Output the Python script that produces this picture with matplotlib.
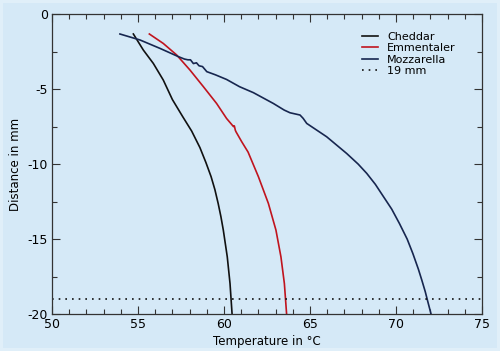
import matplotlib.pyplot as plt
from matplotlib.ticker import MultipleLocator

plt.rcParams['axes.unicode_minus'] = False

# Data
cheddar_t = [54.73, 55.31, 55.89, 56.47, 57.0, 57.6, 58.12, 58.6, 58.95, 59.25, 59.47, 59.66, 59.82, 59.96, 60.19, 60.35, 60.47]
cheddar_d = [-1.33, -2.4, -3.29, -4.4, -5.7, -6.84, -7.8, -8.9, -9.9, -10.84, -11.7, -12.62, -13.5, -14.4, -16.18, -17.96, -20.0]

emment_t = [55.66, 56.47, 57.25, 58.02, 58.8, 59.57, 60.15, 60.55, 60.6, 60.66, 60.7, 61.03, 61.4, 62.0, 62.58, 63.02, 63.31, 63.51, 63.64]
emment_d = [-1.33, -1.96, -2.73, -3.73, -4.84, -5.96, -6.96, -7.5, -7.45, -7.75, -7.85, -8.51, -9.2, -10.84, -12.62, -14.4, -16.18, -17.96, -20.0]

mozz_t = [53.95, 55.12, 56.28, 57.35, 57.7, 57.9, 58.05, 58.22, 58.4, 58.55, 58.75, 59.0, 59.5, 60.15, 60.9, 61.71, 62.87, 63.5, 63.84,
          64.42, 64.6, 64.81, 65.97, 67.13, 67.8, 68.3, 68.8, 69.26, 69.75, 70.2, 70.65, 70.98, 71.3, 71.5, 71.7, 71.88, 72.04]
mozz_d = [-1.33, -1.73, -2.29, -2.84, -3.0, -3.05, -3.05, -3.3, -3.25, -3.45, -3.5, -3.84, -4.05, -4.36, -4.84, -5.24, -5.96, -6.4, -6.58,
          -6.73, -6.95, -7.29, -8.18, -9.29, -10.0, -10.62, -11.35, -12.15, -13.0, -13.96, -15.0, -15.96, -17.0, -17.73, -18.5, -19.3, -20.0]

limit_depth = -19

bg = '#d5e9f7'
fig = plt.figure(figsize=(5.0, 3.51), dpi=100, facecolor=bg)
ax = fig.add_axes([0.104, 0.105, 0.860, 0.855])
ax.set_facecolor(bg)

ax.plot(cheddar_t, cheddar_d, color='#111111', lw=1.2, label='Cheddar')
ax.plot(emment_t, emment_d, color='#c0141e', lw=1.2, label='Emmentaler')
ax.plot(mozz_t, mozz_d, color='#17264f', lw=1.2, label='Mozzarella')
ax.axhline(limit_depth, color='#111111', lw=1.2, ls=(0, (1, 3)), label='19 mm')

ax.set_xlim(50, 75)
ax.set_ylim(-20, 0)
ax.xaxis.set_major_locator(MultipleLocator(5))
ax.xaxis.set_minor_locator(MultipleLocator(1))
ax.yaxis.set_major_locator(MultipleLocator(5))
ax.yaxis.set_minor_locator(MultipleLocator(2.5))
ax.tick_params(which='both', direction='in', top=True, right=True, color='#333333', labelsize=9, pad=3)
ax.tick_params(which='major', length=6, width=0.8)
ax.tick_params(which='minor', length=3.5, width=0.8)
for s in ax.spines.values():
    s.set_color('#333333')
    s.set_linewidth(0.9)

ax.set_xlabel('Temperature in °C', fontsize=8.5, labelpad=2)
ax.xaxis.set_label_coords(0.5, -0.07)
ax.set_ylabel('Distance in mm', fontsize=8.5, labelpad=4)

ax.legend(loc='upper left', bbox_to_anchor=(0.71, 0.955), frameon=False, fontsize=8,
          handlelength=1.5, handletextpad=0.8, labelspacing=0.12, borderaxespad=0)

fig.patch.set_edgecolor('#e0eff9')
fig.patch.set_linewidth(3)

fig.savefig('out.png', dpi=100, facecolor=fig.get_facecolor(), edgecolor=fig.get_edgecolor())
